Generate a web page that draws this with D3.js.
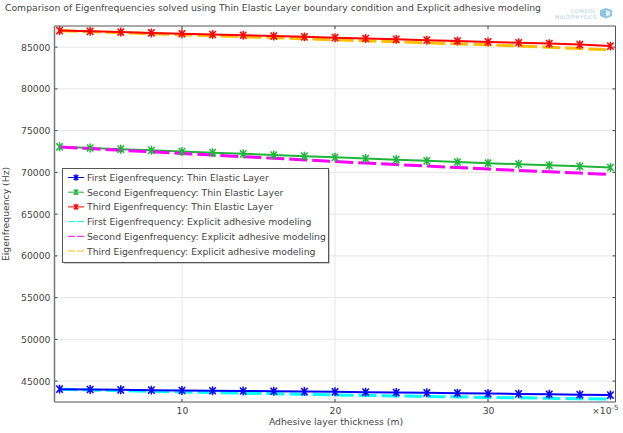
<!DOCTYPE html>
<html><head><meta charset="utf-8">
<script src="https://cdn.jsdelivr.net/npm/d3@7"></script>
<style>html,body{margin:0;padding:0;background:#fff}svg{display:block}text{font-family:"DejaVu Sans",sans-serif;fill:#444}</style>
</head><body><svg id="c" width="623" height="433"></svg>
<script>
const thickness=[2,4,6,8,10,12,14,16,18,20,22,24,26,28,30,32,34,36,38];
const xTicks=[10,20,30];
const yTicks=[45000,50000,55000,60000,65000,70000,75000,80000,85000];
const firstThin=[44040,44000,43960,43920,43880,43850,43820,43790,43750,43720,43680,43640,43600,43560,43510,43470,43430,43380,43330];
const secondThin=[73060,72920,72780,72640,72500,72360,72220,72080,71940,71800,71660,71520,71380,71240,71100,70980,70840,70720,70580];
const thirdThin=[86980,86890,86800,86700,86600,86510,86420,86320,86230,86130,86030,85930,85830,85730,85620,85520,85420,85300,85120];
const firstExplicit=[44020,43940,43860,43780,43700,43630,43560,43490,43420,43350,43290,43230,43170,43110,43050,43000,42950,42900,42850];
const secondExplicit=[73040,72850,72650,72460,72270,72080,71880,71690,71490,71300,71120,70940,70760,70580,70400,70240,70080,69920,69750];
const thirdExplicit=[86960,86840,86720,86600,86480,86360,86240,86120,86000,85880,85760,85640,85520,85400,85280,85130,84980,84830,84680];
const titleText="Comparison of Eigenfrequencies solved using Thin Elastic Layer boundary condition and Explicit adhesive modeling";
const seriesNames=["First Eigenfrequency: Thin Elastic Layer","Second Eigenfrequency: Thin Elastic Layer","Third Eigenfrequency: Thin Elastic Layer","First Eigenfrequency: Explicit adhesive modeling","Second Eigenfrequency: Explicit adhesive modeling","Third Eigenfrequency: Explicit adhesive modeling"];
const seriesColors=["#0000ff","#1fb53a","#ff0000","#00ffff","#ff00ff","#ffbf00"];
const seriesValues=[firstThin,secondThin,thirdThin,firstExplicit,secondExplicit,thirdExplicit];

const L=54.5,R=615.5,T=26,B=402;
const x=d3.scaleLinear().domain([1.67,38.33]).range([L,R]);
const y=d3.scaleLinear().domain([42500,87530]).range([B,T]);
const svg=d3.select("#c");
const fs=9.25;
svg.append("text").attr("x",5).attr("y",11).attr("font-size",fs).text(titleText);

// grid
const g=svg.append("g");
g.selectAll(".gx").data(xTicks).join("line").attr("x1",d=>x(d)).attr("x2",d=>x(d)).attr("y1",T).attr("y2",B).attr("stroke","#e6e6e6");
g.selectAll(".gy").data(yTicks).join("line").attr("x1",L).attr("x2",R).attr("y1",d=>y(d)).attr("y2",d=>y(d)).attr("stroke","#e6e6e6");

// axes
const axL=svg.append("g").attr("transform",`translate(${L},0)`).call(d3.axisLeft(y).tickValues(yTicks).tickFormat(d3.format("d")).tickSize(0).tickPadding(4));
const axB=svg.append("g").attr("transform",`translate(0,${B})`).call(d3.axisBottom(x).tickValues(xTicks).tickSize(0).tickPadding(5));
[axL,axB].forEach(a=>{a.select(".domain").remove();a.selectAll("text").attr("font-size",fs).style("font-family",'"DejaVu Sans",sans-serif').attr("fill","#444");});
const ticks=svg.append("g").attr("stroke","#444");
yTicks.forEach(v=>{ticks.append("line").attr("x1",L).attr("x2",L+3).attr("y1",y(v)).attr("y2",y(v));ticks.append("line").attr("x1",R-3).attr("x2",R).attr("y1",y(v)).attr("y2",y(v));});
xTicks.forEach(v=>{ticks.append("line").attr("x1",x(v)).attr("x2",x(v)).attr("y1",B-3).attr("y2",B);ticks.append("line").attr("x1",x(v)).attr("x2",x(v)).attr("y1",T).attr("y2",T+3);});

const line=d3.line().x((d,i)=>x(thickness[i])).y(d=>y(d));
const xStar={draw(ctx,size){const r=Math.sqrt(size);const w=r*.72,h=r*.8;
  ctx.moveTo(0,-r);ctx.lineTo(0,r);ctx.moveTo(-w,-h);ctx.lineTo(w,h);ctx.moveTo(w,-h);ctx.lineTo(-w,h);}};
const star=d3.symbol().type(xStar).size(20);

svg.append("path").attr("d",line(secondThin)).attr("fill","none").attr("stroke",seriesColors[1]).attr("stroke-width",2);
// explicit series: dashed
[3,4,5].forEach(k=>{
  svg.append("path").attr("d",line(seriesValues[k])).attr("fill","none").attr("stroke",seriesColors[k]).attr("stroke-width",3).attr("stroke-dasharray","18,5");
});
// the blue and red solid lines sit over their dashes, markers on top
[0,2].forEach(k=>{
  svg.append("path").attr("d",line(seriesValues[k])).attr("fill","none").attr("stroke",seriesColors[k]).attr("stroke-width",2);
});
[0,1,2].forEach(k=>{
  svg.append("g").selectAll("path").data(seriesValues[k]).join("path")
   .attr("d",star).attr("transform",(d,i)=>`translate(${x(thickness[i])},${y(d)})`).attr("fill","none").attr("stroke",seriesColors[k]).attr("stroke-width",1.5);
});

// frame
svg.append("path").attr("d",`M${L},${B}V${T}H${R}V${B}H${L}Z`).attr("fill","none").attr("stroke","#555");
svg.append("line").attr("x1",L).attr("x2",L).attr("y1",T).attr("y2",B).attr("stroke","#777").attr("stroke-width",1.5);

// axis titles
svg.append("text").attr("x",336).attr("y",425).attr("text-anchor","middle").attr("font-size",fs).text("Adhesive layer thickness (m)");
svg.append("text").attr("transform","translate(9,214) rotate(-90)").attr("text-anchor","middle").attr("font-size",fs).text("Eigenfrequency (Hz)");
const mult=svg.append("text").attr("x",592).attr("y",414).attr("font-size",fs);
mult.append("tspan").text("×10");
mult.append("tspan").attr("dy",-4).attr("font-size",7).text("-5");

// legend
const lg=svg.append("g");
lg.append("rect").attr("x",64).attr("y",170).attr("width",266).attr("height",94).attr("fill","#999").attr("opacity",.5);
lg.append("rect").attr("x",62.5).attr("y",168.5).attr("width",266).attr("height",94).attr("fill","#fff").attr("stroke","#555");
const smallStar=d3.symbol().type(xStar).size(10);
seriesNames.forEach((n,i)=>{
  const ly=177.5+i*14.7;
  const ln=lg.append("line").attr("x1",68).attr("x2",84).attr("y1",ly).attr("y2",ly).attr("stroke",seriesColors[i]).attr("stroke-width",1);
  if(i<3){lg.append("path").attr("d",smallStar()).attr("transform",`translate(76,${ly})`).attr("fill","none").attr("stroke",seriesColors[i]).attr("stroke-width",1.3);}
  else ln.attr("stroke-dasharray","7,2");
  lg.append("text").attr("x",87).attr("y",ly+3.5).attr("font-size",fs).text(n);
});

// logo
const logo=svg.append("g");
logo.append("text").attr("x",596).attr("y",12.5).attr("text-anchor","end").attr("font-size",5).attr("letter-spacing",.6).style("fill","#a9cfe2").text("COMSOL");
logo.append("text").attr("x",597).attr("y",18.5).attr("text-anchor","end").attr("font-size",5).attr("letter-spacing",.55).style("fill","#a9cfe2").text("MULTIPHYSICS");
logo.append("path").attr("d","M600,10L606,8L612,10L612,16L606,18.5L600,16Z").attr("fill","#8fc4de");
logo.append("path").attr("d","M606,10L610,11.5V15L606,16.5Z").attr("fill","#dff0f8");
</script></body></html>
